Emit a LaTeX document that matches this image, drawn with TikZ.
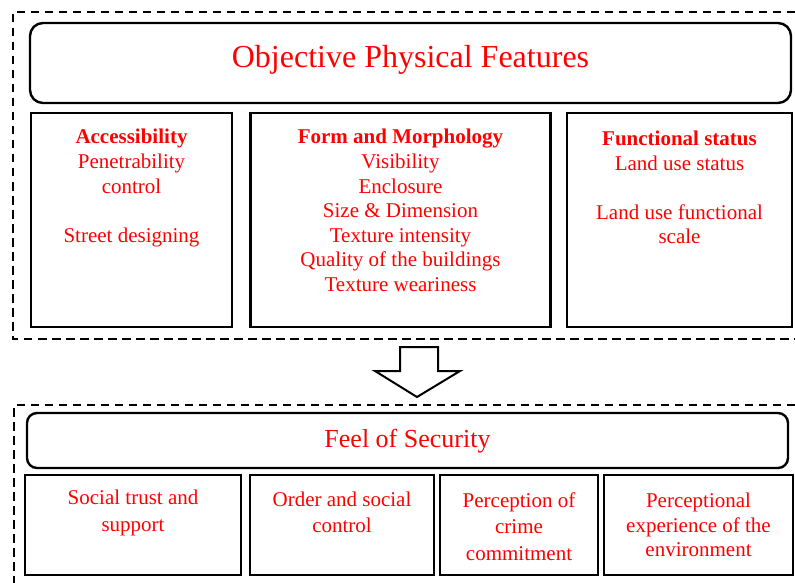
\documentclass[tikz,border=0pt]{standalone}
\usepackage{fontspec}
\setmainfont{Liberation Serif}
\usetikzlibrary{positioning}

\tikzset{
  frame/.style={line width=2.2pt, dash pattern=on 8.5pt off 5.5pt},
  headbox/.style={draw, line width=2.4pt, rounded corners=13pt, inner sep=0pt},
  featbox/.style={draw, line width=2.6pt, inner sep=0pt},
  boxtext/.style={text=red, align=center, inner sep=0pt, font=\fontsize{21}{24.6}\selectfont},
  lowtext/.style={boxtext, font=\fontsize{21}{26.5}\selectfont},
}

\begin{document}
\begin{tikzpicture}[x=1pt,y=-1pt]
\useasboundingbox (0,0) rectangle (795,583);

% objective features
\draw [frame] (795,12) -- (13,12) -- (13,339) -- (795,339);
\node [headbox, minimum width=761pt, minimum height=80pt] (objective) at (410.5,63) {};
\node [text=red, inner sep=0pt, font=\fontsize{32}{38}\selectfont] (objectivetext) at ([yshift=3pt]objective.center) {Objective Physical Features};

\node [featbox, minimum width=201pt, minimum height=214pt] (access) at (131.5,220) {};
\node [featbox, minimum width=300pt, minimum height=214pt] (form) at (400.5,220) {};
\node [featbox, minimum width=225pt, minimum height=214pt] (func) at (679.5,220) {};

\node [boxtext, below=17.5pt of access.north] (accesstext) {\textbf{Accessibility}\\Penetrability\\control\\[24.6pt]Street designing};
\node [boxtext, below=17.5pt of form.north] (formtext) {\textbf{Form and Morphology}\\Visibility\\Enclosure\\Size \& Dimension\\Texture intensity\\Quality of the buildings\\Texture weariness};
\node [boxtext, below=19pt of func.north] (functext) {\textbf{Functional status}\\Land use status\\[24.6pt]Land use functional\\scale};

% block arrow
\draw [line width=2pt] (400,347) -- (438,347) -- (438,371) -- (460,371) -- (417,397) -- (375,371) -- (400,371) -- cycle;

% feel of security
\draw [frame] (795,405) -- (14,405) -- (14,583);
\node [headbox, rounded corners=10pt, minimum width=761pt, minimum height=55pt] (security) at (407.5,440.5) {};
\node [text=red, inner sep=0pt, font=\fontsize{26}{31}\selectfont] (securitytext) at ([yshift=-1pt]security.center) {Feel of Security};

\node [featbox, minimum width=216pt, minimum height=100pt] (trust) at (133,525) {};
\node [featbox, minimum width=184pt, minimum height=100pt] (order) at (342,525) {};
\node [featbox, minimum width=158pt, minimum height=100pt] (crime) at (519,525) {};
\node [featbox, minimum width=189pt, minimum height=100pt] (environ) at (698.5,525) {};

\node [lowtext, below=16pt of trust.north, font=\fontsize{21}{27.5}\selectfont] (trusttext) {Social trust and\\support};
\node [lowtext, below=18pt of order.north] (ordertext) {Order and social\\control};
\node [lowtext, below=18.5pt of crime.north] (crimetext) {Perception of\\crime\\commitment};
\node [lowtext, below=19.5pt of environ.north, font=\fontsize{21}{24.5}\selectfont] (environtext) {Perceptional\\experience of the\\environment};
\end{tikzpicture}
\end{document}
